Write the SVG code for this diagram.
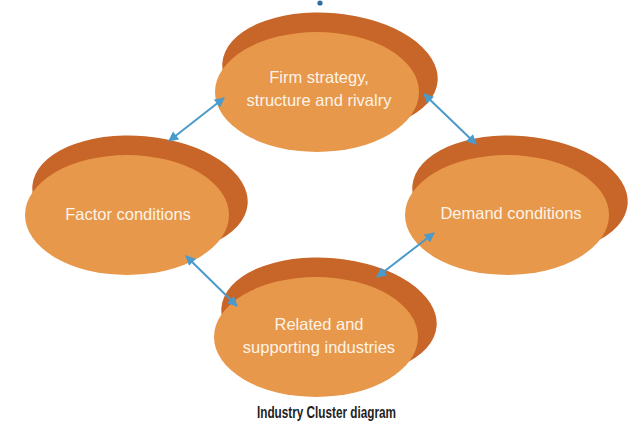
<svg xmlns="http://www.w3.org/2000/svg" width="635" height="422" viewBox="0 0 635 422">
  <defs>
    <style>
      .back { fill: #C86528; }
      .front { fill: #E8984A; }
      .label { font-family: "Liberation Sans", Arial, sans-serif; font-size: 16.5px; fill: #FDF3E8; text-anchor: middle; }
      .link { stroke: #4A9ACB; stroke-width: 2; fill: none; marker-start: url(#head); marker-end: url(#head); }
      .caption { font-family: "Liberation Sans", Arial, sans-serif; font-size: 16px; font-weight: bold; fill: #1E1E1E; text-anchor: middle; }
    </style>
    <marker id="head" viewBox="0 0 10 10" refX="9" refY="5" markerWidth="6" markerHeight="5" markerUnits="strokeWidth" orient="auto-start-reverse">
      <path d="M0,0 L10,5 L0,10 Z" fill="#4A9ACB"/>
    </marker>
    <!-- disc = slightly tilted dark rim ellipse behind a lighter face -->
    <g id="disc">
      <ellipse class="back" cx="13" cy="-20" rx="108" ry="59" transform="rotate(5 13 -20)"/>
      <ellipse class="front" cx="0" cy="0" rx="102" ry="60"/>
    </g>
  </defs>

  <rect width="635" height="422" fill="#FFFFFF"/>

  <circle cx="320" cy="3" r="2.6" fill="#2E6DA4"/>

  <g id="node-firm">
    <use href="#disc" x="317" y="92"/>
    <text class="label" x="319" y="83">Firm strategy,</text>
    <text class="label" x="319" y="106">structure and rivalry</text>
  </g>

  <g id="node-factor">
    <use href="#disc" x="127" y="215"/>
    <text class="label" x="128" y="220">Factor conditions</text>
  </g>

  <g id="node-demand">
    <use href="#disc" x="507" y="215"/>
    <text class="label" x="511" y="219">Demand conditions</text>
  </g>

  <g id="node-related">
    <use href="#disc" x="316" y="337"/>
    <text class="label" x="319" y="330">Related and</text>
    <text class="label" x="319" y="353">supporting industries</text>
  </g>

  <g id="connectors">
    <line class="link" x1="169" y1="141" x2="224" y2="98"/>
    <line class="link" x1="424" y1="94" x2="476" y2="144"/>
    <line class="link" x1="186" y1="256" x2="237" y2="306"/>
    <line class="link" x1="377" y1="277" x2="434" y2="233"/>
  </g>

  <text class="caption" x="326.5" y="418" textLength="139" lengthAdjust="spacingAndGlyphs">Industry Cluster diagram</text>
</svg>
